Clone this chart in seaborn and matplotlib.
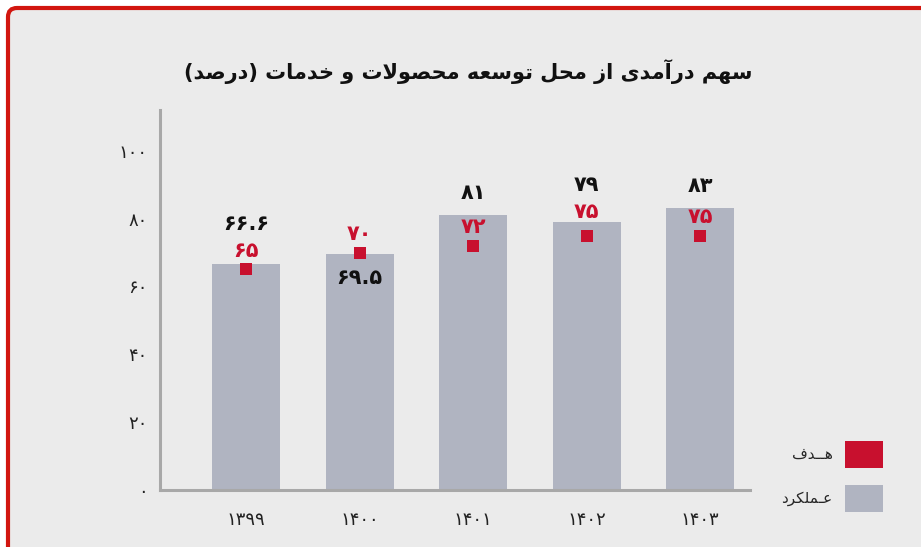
import matplotlib
matplotlib.use('Agg')
import matplotlib.pyplot as plt
from matplotlib.patches import FancyBboxPatch, Patch
import seaborn as sns

years = ['1399', '1400', '1401', '1402', '1403']
actual = [66.6, 69.5, 81, 79, 83]
target = [65, 70, 72, 75, 75]
y_ticks = [0, 20, 40, 60, 80, 100]

title = 'سهم درآمدی از محل توسعه محصولات و خدمات (درصد)'
label_target = 'هــدف'
label_actual = 'عـملکرد'

RED = '#c8102e'
GRAY = '#b0b4c1'
BG = '#ebebeb'
AXIS = '#a8a8a8'

# presentation forms: isolated, final, initial, medial (None -> joins only to the right)
FORMS = {
    'ا': ('\uFE8D', '\uFE8E', None, None),
    'آ': ('\uFE81', '\uFE82', None, None),
    'ت': ('\uFE95', '\uFE96', '\uFE97', '\uFE98'),
    'ح': ('\uFEA1', '\uFEA2', '\uFEA3', '\uFEA4'),
    'خ': ('\uFEA5', '\uFEA6', '\uFEA7', '\uFEA8'),
    'د': ('\uFEA9', '\uFEAA', None, None),
    'ر': ('\uFEAD', '\uFEAE', None, None),
    'ز': ('\uFEAF', '\uFEB0', None, None),
    'س': ('\uFEB1', '\uFEB2', '\uFEB3', '\uFEB4'),
    'ص': ('\uFEB9', '\uFEBA', '\uFEBB', '\uFEBC'),
    'ع': ('\uFEC9', '\uFECA', '\uFECB', '\uFECC'),
    'ف': ('\uFED1', '\uFED2', '\uFED3', '\uFED4'),
    'ک': ('\uFB8E', '\uFB8F', '\uFB90', '\uFB91'),
    'ل': ('\uFEDD', '\uFEDE', '\uFEDF', '\uFEE0'),
    'م': ('\uFEE1', '\uFEE2', '\uFEE3', '\uFEE4'),
    'ه': ('\uFEE9', '\uFEEA', '\uFEEB', '\uFEEC'),
    'و': ('\uFEED', '\uFEEE', None, None),
    'ی': ('\uFBFC', '\uFBFD', '\uFBFE', '\uFBFF'),
}
TATWEEL = '\u0640'
LAM_ALEF = {'ا': ('\uFEFB', '\uFEFC'), 'آ': ('\uFEF5', '\uFEF6')}


def joins_forward(c):
    return c == TATWEEL or (c in FORMS and FORMS[c][2] is not None)


def joinable(c):
    return c == TATWEEL or c in FORMS


def shape(text):
    out = []
    i = 0
    while i < len(text):
        c = text[i]
        prev = text[i - 1] if i > 0 else ''
        nxt = text[i + 1] if i + 1 < len(text) else ''
        j_prev = joinable(c) and joins_forward(prev)
        if c == 'ل' and nxt in LAM_ALEF:
            out.append(LAM_ALEF[nxt][1 if j_prev else 0])
            i += 2
            continue
        if c not in FORMS:
            out.append(c)
            i += 1
            continue
        j_next = joins_forward(c) and joinable(nxt)
        iso, fin, ini, med = FORMS[c]
        if j_prev and j_next:
            out.append(med)
        elif j_prev:
            out.append(fin)
        elif j_next:
            out.append(ini)
        else:
            out.append(iso)
        i += 1
    visual = ''.join(out)[::-1]
    return visual.translate(str.maketrans('()', ')('))


def fa(v):
    return f'{v:g}'.translate(str.maketrans('0123456789', '۰۱۲۳۴۵۶۷۸۹'))


sns.set_style('white')
plt.rcParams['font.family'] = ['DejaVu Sans']

fig = plt.figure(figsize=(9.21, 5.47), dpi=100)
fig.patch.set_facecolor('white')
card = FancyBboxPatch((0.08, -0.3), 9.6, 5.69,
                      boxstyle='round,pad=0,rounding_size=0.09',
                      transform=fig.dpi_scale_trans,
                      facecolor=BG, edgecolor='#d2160f', linewidth=3,
                      zorder=-5)
fig.patches.append(card)

ax = fig.add_axes([160 / 921, 1 - 490 / 547, 590 / 921, 380 / 547])
ax.set_facecolor('none')

sns.barplot(x=years, y=actual, order=years, color=GRAY, saturation=1,
            width=0.6, errorbar=None, linewidth=0, edgecolor='none',
            ax=ax, zorder=2)
sns.stripplot(x=years, y=target, order=years, jitter=False, marker='s',
              size=9, color=RED, linewidth=0, ax=ax, zorder=4)

ax.set_xlim(-0.76, 4.44)
ax.set_ylim(0, 112)

for i, (a, t) in enumerate(zip(actual, target)):
    yt = t + 5.5
    if a >= t:
        # keep the target label clear of the bar's top edge
        if yt > a - 2.5:
            yt = max(yt, a + 3)
        ya = max(a + 6.5, yt + 8)
    else:
        ya = a - 7
    ax.text(i, yt, fa(t), ha='center', va='center', fontsize=15,
            fontweight='bold', color=RED, zorder=5)
    ax.text(i, ya, fa(a), ha='center', va='center', fontsize=15,
            fontweight='bold', color='#111111', zorder=5)

ax.set_yticks(y_ticks)
ax.set_yticklabels([fa(v) for v in y_ticks], fontsize=13, color='#222222')
ax.set_xticks(range(len(years)))
ax.set_xticklabels([fa(int(y)) for y in years], fontsize=13, color='#222222')
ax.tick_params(axis='y', length=0, pad=9)
ax.tick_params(axis='x', length=0, pad=15)
ax.set_xlabel('')
ax.set_ylabel('')

sns.despine(ax=ax)
for side in ['left', 'bottom']:
    ax.spines[side].set_color(AXIS)
    ax.spines[side].set_linewidth(2.2)

fig.text(468 / 921, 1 - 72 / 547, shape(title), ha='center', va='center',
         fontsize=15, fontweight='bold', color='#111111')

handles = [Patch(facecolor=RED, edgecolor='none'),
           Patch(facecolor=GRAY, edgecolor='none')]
fig.legend(handles, [shape(label_target), shape(label_actual)],
           loc='upper right', bbox_to_anchor=(883 / 921, 1 - 441 / 547),
           frameon=False, markerfirst=False, fontsize=11,
           handlelength=2.5, handleheight=2.3, handletextpad=0.8,
           labelspacing=1.15, borderpad=0, borderaxespad=0)

fig.savefig('out.png', dpi=100, facecolor=fig.get_facecolor())
